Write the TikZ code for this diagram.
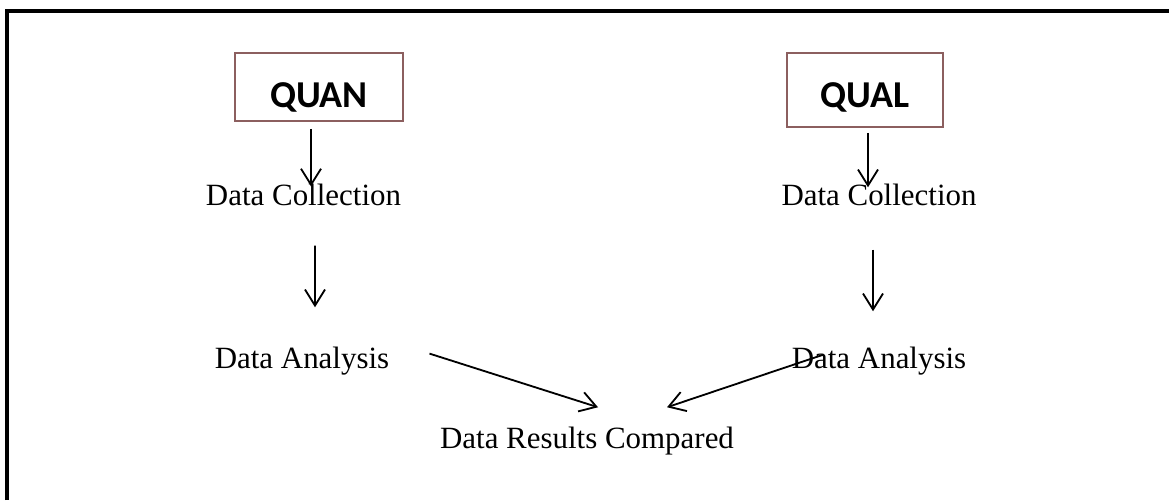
\documentclass[tikz,border=0pt]{standalone}
\usepackage{fontspec}
\setmainfont{Liberation Serif}
\newfontfamily\boxfont{Carlito}
\usetikzlibrary{arrows.meta}

\definecolor{boxred}{RGB}{140,95,95}

\tikzset{
	method/.style={draw=boxred, line width=1.4pt, inner sep=0pt, text depth=0pt,
		font=\boxfont\bfseries\fontsize{27}{32}\selectfont},
	stage/.style={inner sep=0pt, anchor=base, font=\fontsize{22}{26}\selectfont},
	arr/.style={line width=1.3pt, -{Straight Barb[length=0.4cm,width=0.5cm]}}
}

\begin{document}
\begin{tikzpicture}[x=0.025cm,y=-0.025cm]
	\useasboundingbox[fill=white] (0,0) rectangle (1169,500);
	
	% outer frame, only its top and left sides fit on the page
	\draw[line width=2.2pt] (7,500) -- (7,11) -- (1169,11);
	
	% the two strands
	\node[method, minimum width=4.2cm, minimum height=1.7cm, text height=1cm] (quan) at (319,87) {QUAN};
	\node[method, minimum width=3.9cm, minimum height=1.85cm, text height=0.88cm] (qual) at (865,90) {QUAL};
	
	\node[stage] (colLeft) at (303.5,205) {Data Collection};
	\node[stage] (colRight) at (879,205) {Data Collection};
	
	\node[stage] (anaLeft) at (302,368) {Data Analysis};
	\node[stage] (anaRight) at (879,368) {Data Analysis};
	
	\node[stage] (results) at (587,448) {Data Results Compared};
	
	% vertical arrows
	\draw[arr, shorten <=0.175cm, shorten >=-0.08cm] ([shift={(-8,0)}]quan.south) -- ([shift={(-8,0)}]quan.south |- colLeft.north);
	\draw[arr, shorten <=0.125cm, shorten >=-0.1cm] ([shift={(3,0)}]qual.south) -- ([shift={(3,0)}]qual.south |- colRight.north);
	
	\draw[arr] ([shift={(11.5,40)}]colLeft.south) -- ([shift={(13,-39)}]anaLeft.north);
	\draw[arr] ([shift={(-6,44)}]colRight.south) -- ([shift={(-6,-35)}]anaRight.north);
	
	% both analyses meet
	\draw[arr] ([shift={(40,-7)}]anaLeft.east) -- ([shift={(11,-19)}]results.north);
	\draw[arr] ([shift={(32,-6)}]anaRight.west) -- ([shift={(80,-19)}]results.north);
	
\end{tikzpicture}
\end{document}
